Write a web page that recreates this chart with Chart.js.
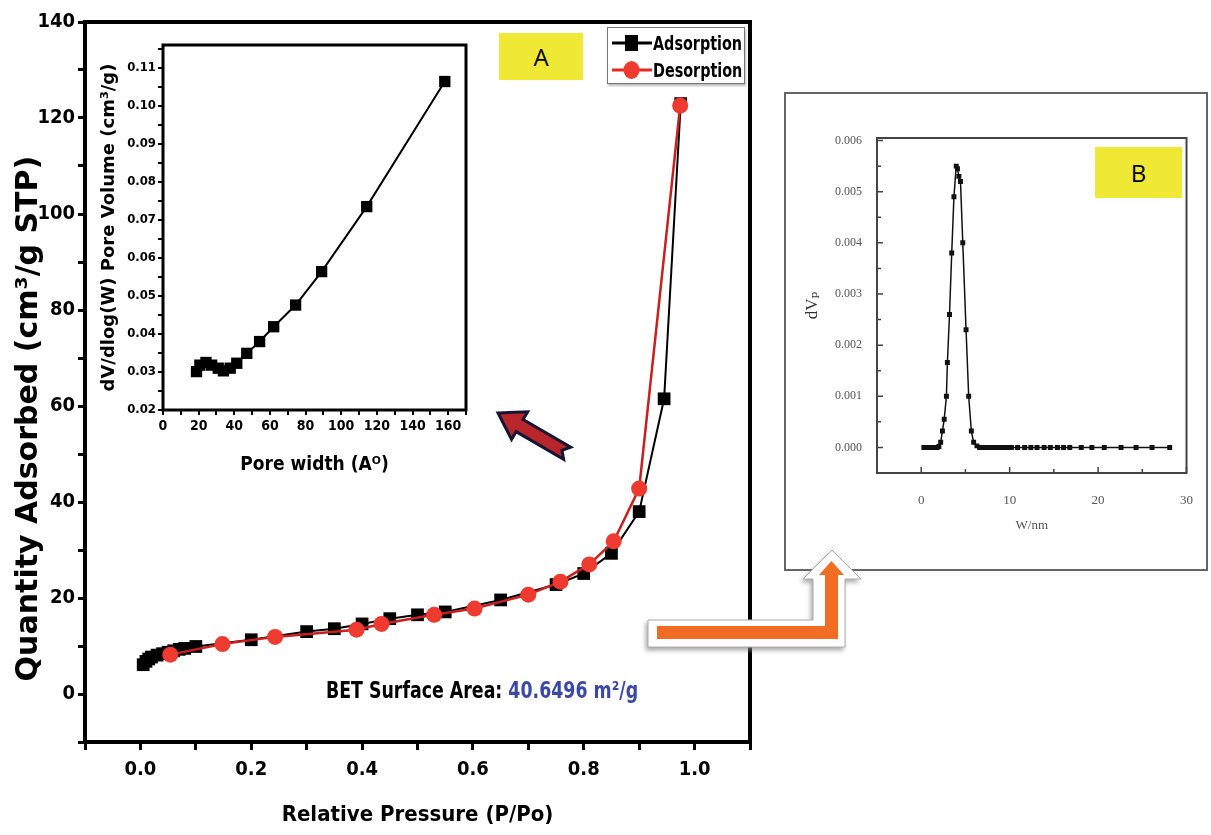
<!DOCTYPE html>
<html>
<head>
<meta charset="utf-8">
<script src="https://cdn.jsdelivr.net/npm/chart.js@4.4.0/dist/chart.umd.min.js"></script>
<style>
body{margin:0;background:#fff;width:1211px;height:835px;overflow:hidden;position:relative}
.abs{position:absolute}
.narrow{font-family:"Liberation Sans Narrow","DejaVu Sans Condensed",sans-serif;font-weight:bold}
#leg .row{display:flex;align-items:center;height:27px}
#leg svg{flex-shrink:0}
#leg span{font-size:19px;display:inline-block;transform:scaleX(0.84);transform-origin:left center;white-space:nowrap}
</style>
</head>
<body>
<canvas id="main" class="abs" style="left:0;top:0" width="770" height="835"></canvas>
<canvas id="inset" class="abs" style="left:95px;top:35px" width="380" height="450"></canvas>

<div class="abs" style="left:499px;top:33px;width:84px;height:47px;background:#efe935;font:24px 'Open Sans',sans-serif;text-align:center;line-height:47px">A</div>

<div id="leg" class="abs narrow" style="left:607px;top:27px;width:138px;height:57px;border:1px solid #777;background:#fff;box-shadow:1px 2px 2px #bbb;padding-top:1px;box-sizing:border-box">
  <div class="row"><svg width="45" height="24"><line x1="4" y1="12" x2="44" y2="12" stroke="#000" stroke-width="3"/><rect x="17" y="4" width="13" height="16" fill="#000"/></svg><span>Adsorption</span></div>
  <div class="row"><svg width="45" height="24"><line x1="4" y1="12" x2="44" y2="12" stroke="#e02a22" stroke-width="3"/><ellipse cx="23.5" cy="12" rx="8" ry="9" fill="#ee3a2f"/></svg><span>Desorption</span></div>
</div>

<div class="abs narrow" style="left:282px;top:677px;width:400px;text-align:center;font-size:23px;white-space:nowrap;transform:scaleX(0.84);transform-origin:center">BET Surface Area: <span style="color:#3c48a6">40.6496 m²/g</span></div>

<div class="abs" style="left:784px;top:92px;width:424px;height:479px;border:2px solid #666;box-sizing:border-box"></div>
<canvas id="pb" class="abs" style="left:790px;top:95px" width="415" height="470"></canvas>
<div class="abs" style="left:1095px;top:147px;width:87px;height:51px;background:#efe935;font:24px 'Open Sans',sans-serif;text-align:center;line-height:51px">B</div>

<svg class="abs" style="left:0;top:0" width="1211" height="835">
  <defs>
    <filter id="sh" x="-10%" y="-10%" width="130%" height="140%">
      <feDropShadow dx="-2" dy="3" stdDeviation="2" flood-color="#888" flood-opacity="0.7"/>
    </filter>
  </defs>
  <g transform="translate(498,413) rotate(30.2)">
    <polygon points="0,0 25,-16 25,-7 80,-7 74,0 80,7 25,7 25,16" fill="#b8262b" stroke="#141633" stroke-width="3" stroke-linejoin="miter"/>
  </g>
  <polygon points="648,620 813,620 813,579 803,579 832,550 861,579 845,579 845,647 648,647" fill="#fff" stroke="#aaa" stroke-width="1" filter="url(#sh)"/>
  <polygon points="657,626 825,626 825,575 819,575 831.5,561 844,575 838,575 838,639 657,639" fill="#f26c24"/>
</svg>

<script>
// main isotherm (Relative Pressure P/Po vs Quantity Adsorbed)
const adsX = [0.005, 0.01, 0.015, 0.02, 0.03, 0.04, 0.05, 0.06, 0.07, 0.08, 0.1, 0.2, 0.3, 0.35, 0.4, 0.45, 0.5, 0.55, 0.65, 0.75, 0.8, 0.85, 0.9, 0.945, 0.975];
const adsY = [6.1, 6.8, 7.3, 7.7, 8.1, 8.4, 8.7, 9.0, 9.3, 9.5, 9.9, 11.3, 13.0, 13.6, 14.6, 15.7, 16.5, 17.1, 19.6, 22.8, 25.1, 29.3, 38.0, 61.5, 123.0];
const desX = [0.054, 0.148, 0.243, 0.39, 0.435, 0.53, 0.603, 0.70, 0.758, 0.81, 0.854, 0.90, 0.974];
const desY = [8.2, 10.4, 11.9, 13.4, 14.6, 16.5, 17.8, 20.7, 23.4, 27.0, 31.8, 42.8, 122.6];
const mainXTicks = [-0.1, 0, 0.1, 0.2, 0.3, 0.4, 0.5, 0.6, 0.7, 0.8, 0.9, 1.0, 1.1];
const mainXLabels = ['', '0.0', '', '0.2', '', '0.4', '', '0.6', '', '0.8', '', '1.0', ''];
const mainYTicks = [-10, 0, 10, 20, 30, 40, 50, 60, 70, 80, 90, 100, 110, 120, 130, 140];
const mainYLabels = ['', '0', '', '20', '', '40', '', '60', '', '80', '', '100', '', '120', '', '140'];

// inset: pore width vs dV/dlog(W)
const poreW = [18.8, 20.7, 24.1, 27.3, 31.0, 33.9, 37.7, 41.4, 47.0, 54.2, 62.1, 74.4, 89.0, 114.3, 158.1];
const poreV = [0.0301, 0.0318, 0.0325, 0.0318, 0.031, 0.0303, 0.031, 0.0323, 0.0349, 0.038, 0.0419, 0.0476, 0.0564, 0.0735, 0.1064];
const insetXTicks = [0, 10, 20, 30, 40, 50, 60, 70, 80, 90, 100, 110, 120, 130, 140, 150, 160, 170];
const insetXLabels = ['0', '', '20', '', '40', '', '60', '', '80', '', '100', '', '120', '', '140', '', '160', ''];
const insetYTicks = [0.02, 0.025, 0.03, 0.035, 0.04, 0.045, 0.05, 0.055, 0.06, 0.065, 0.07, 0.075, 0.08, 0.085, 0.09, 0.095, 0.10, 0.105, 0.11, 0.115];
const insetYLabels = ['0.02', '', '0.03', '', '0.04', '', '0.05', '', '0.06', '', '0.07', '', '0.08', '', '0.09', '', '0.10', '', '0.11', ''];

// panel B: W/nm vs dVp
const bW = [0.3, 0.6, 0.9, 1.2, 1.5, 1.8, 2.0, 2.2, 2.4, 2.6, 2.85, 2.96, 3.2, 3.45, 3.7, 3.96, 4.1, 4.26, 4.44, 4.7, 5.07, 5.37, 5.67, 5.93, 6.3, 6.6, 6.9, 7.2, 7.5, 7.8, 8.1, 8.4, 8.7, 9.0, 9.3, 9.6, 9.9, 10.2, 10.9, 11.7, 12.4, 13.1, 13.9, 14.6, 15.4, 16.1, 16.8, 18.1, 19.3, 20.7, 22.6, 24.3, 26.1, 28.1];
const bV = [0, 0, 0, 0, 0, 0, 0.00002, 0.0001, 0.00032, 0.00055, 0.001, 0.00166, 0.0026, 0.0038, 0.0049, 0.0055, 0.00545, 0.0053, 0.0052, 0.004, 0.0023, 0.001, 0.00032, 0.0001, 0.00003, 0, 0, 0, 0, 0, 0, 0, 0, 0, 0, 0, 0, 0, 0, 0, 0, 0, 0, 0, 0, 0, 0, 0, 0, 0, 0, 0, 0, 0];
const bXTicks = [-5, 0, 5, 10, 15, 20, 25, 30];
const bXLabels = ['', '0', '', '10', '', '20', '', '30'];
const bYTicks = [-0.0005, 0, 0.0005, 0.001, 0.0015, 0.002, 0.0025, 0.003, 0.0035, 0.004, 0.0045, 0.005, 0.0055, 0.006];
const bYLabels = ['', '0.000', '', '0.001', '', '0.002', '', '0.003', '', '0.004', '', '0.005', '', '0.006'];

const pts = (xs, ys) => xs.map((x, i) => ({x: x, y: ys[i]}));
const setTicks = vals => s => { s.ticks = vals.map(v => ({value: v})); };
const narrow = '"Liberation Sans Narrow","DejaVu Sans Condensed",sans-serif';

const frame = {
  id: 'frame',
  afterDraw(chart, args, opts) {
    const a = chart.chartArea, ctx = chart.ctx;
    ctx.save();
    ctx.lineWidth = opts.width || 3;
    ctx.strokeStyle = opts.color || '#000';
    ctx.strokeRect(a.left, a.top, a.right - a.left, a.bottom - a.top);
    ctx.restore();
  }
};
Chart.register(frame);

// inward ticks for panel B
const innerTicks = {
  id: 'innerTicks',
  afterDraw(chart) {
    const ctx = chart.ctx, a = chart.chartArea;
    const sx = chart.scales.x, sy = chart.scales.y;
    ctx.save();
    ctx.strokeStyle = '#444';
    ctx.lineWidth = 1.5;
    ctx.beginPath();
    sx.ticks.forEach((t, i) => {
      const px = sx.getPixelForValue(t.value);
      const len = bXLabels[i] ? 6 : 4;
      ctx.moveTo(px, a.bottom); ctx.lineTo(px, a.bottom - len);
    });
    sy.ticks.forEach((t, i) => {
      const py = sy.getPixelForValue(t.value);
      const len = bYLabels[i] ? 6 : 4;
      ctx.moveTo(a.left, py); ctx.lineTo(a.left + len, py);
    });
    ctx.stroke();
    ctx.restore();
  }
};

new Chart(document.getElementById('main'), {
  type: 'line',
  data: {
    datasets: [
      {label: 'Adsorption', data: pts(adsX, adsY), borderColor: '#000', backgroundColor: '#000', borderWidth: 2,
       pointStyle: 'rect', pointRadius: 9, pointBorderWidth: 0, order: 2},
      {label: 'Desorption', data: pts(desX, desY), borderColor: '#c82020', backgroundColor: '#ee3a2f', borderWidth: 2.5,
       pointStyle: 'circle', pointRadius: 8, pointBorderWidth: 0, order: 1}
    ]
  },
  options: {
    responsive: false,
    animation: false,
    layout: {padding: {top: 22, right: 20, left: 0, bottom: 0}},
    plugins: {legend: {display: false}, tooltip: {enabled: false}, frame: {width: 4, color: '#000'}},
    scales: {
      x: {
        type: 'linear', min: -0.1, max: 1.1,
        afterBuildTicks: setTicks(mainXTicks),
        afterFit: s => { s.height = 93; },
        grid: {drawOnChartArea: false, tickLength: 8, color: '#000', lineWidth: 3},
        border: {display: false},
        ticks: {callback: (v, i) => mainXLabels[i], color: '#000', padding: 8, maxRotation: 0, autoSkip: false,
                font: {family: narrow, size: 20, weight: 'bold'}},
        title: {display: true, text: 'Relative Pressure (P/Po)', color: '#000', padding: {top: 0, bottom: 7},
                font: {family: narrow, size: 22, weight: 'bold'}}
      },
      y: {
        type: 'linear', min: -10, max: 140,
        afterBuildTicks: setTicks(mainYTicks),
        afterFit: s => { s.width = 85; },
        grid: {drawOnChartArea: false, tickLength: 7, color: '#000', lineWidth: 3},
        border: {display: false},
        ticks: {callback: (v, i) => mainYLabels[i], color: '#000', padding: 3, autoSkip: false,
                font: {family: narrow, size: 20, weight: 'bold'}},
        // trailing spaces push the rotated title down a little, as in the figure
        title: {display: true, text: 'Quantity Adsorbed (cm³/g STP)\u00A0\u00A0\u00A0\u00A0\u00A0\u00A0\u00A0', color: '#000', padding: {top: 11, bottom: 0},
                font: {family: '"DejaVu Sans",sans-serif', size: 30, weight: 'bold'}}
      }
    }
  }
});

new Chart(document.getElementById('inset'), {
  type: 'line',
  data: {
    datasets: [
      {label: 'Pore volume', data: pts(poreW, poreV), borderColor: '#000', backgroundColor: '#000', borderWidth: 2,
       pointStyle: 'rect', pointRadius: 8, pointBorderWidth: 0}
    ]
  },
  options: {
    responsive: false,
    animation: false,
    layout: {padding: {top: 10, right: 9, left: 0, bottom: 0}},
    plugins: {legend: {display: false}, tooltip: {enabled: false}, frame: {width: 3, color: '#000'}},
    scales: {
      x: {
        type: 'linear', min: 0, max: 170,
        afterBuildTicks: setTicks(insetXTicks),
        afterFit: s => { s.height = 75; },
        grid: {drawOnChartArea: false, tickLength: 5, color: '#000', lineWidth: 2},
        border: {display: false},
        ticks: {callback: (v, i) => insetXLabels[i], color: '#000', padding: 3, maxRotation: 0, autoSkip: false,
                font: {family: narrow, size: 14, weight: 'bold'}},
        title: {display: true, text: 'Pore width (Aᴼ)', color: '#000', padding: {top: 0, bottom: 9},
                font: {family: narrow, size: 19, weight: 'bold'}}
      },
      y: {
        type: 'linear', min: 0.02, max: 0.116,
        afterBuildTicks: setTicks(insetYTicks),
        afterFit: s => { s.width = 68; },
        grid: {drawOnChartArea: false, tickLength: 5, color: '#000', lineWidth: 2},
        border: {display: false},
        ticks: {callback: (v, i) => insetYLabels[i], color: '#000', padding: 2, autoSkip: false,
                font: {family: narrow, size: 13, weight: 'bold'}},
        title: {display: true, text: 'dV/dlog(W) Pore Volume (cm³/g)', color: '#000', padding: {top: 4, bottom: 0},
                font: {family: '"DejaVu Sans",sans-serif', size: 18, weight: 'bold'}}
      }
    }
  }
});

new Chart(document.getElementById('pb'), {
  type: 'line',
  data: {
    datasets: [
      {label: 'dVp', data: pts(bW, bV), borderColor: '#111', backgroundColor: '#111', borderWidth: 1.5,
       pointStyle: 'rect', pointRadius: 3.5, pointBorderWidth: 0}
    ]
  },
  plugins: [innerTicks],
  options: {
    responsive: false,
    animation: false,
    layout: {padding: {top: 43, right: 16, left: 0, bottom: 0}},
    plugins: {legend: {display: false}, tooltip: {enabled: false}, frame: {width: 2, color: '#444'}},
    scales: {
      x: {
        type: 'linear', min: -5, max: 30,
        afterBuildTicks: setTicks(bXTicks),
        afterFit: s => { s.height = 92; },
        grid: {display: false},
        border: {display: false},
        ticks: {callback: (v, i) => bXLabels[i], color: '#555', padding: 12, maxRotation: 0, autoSkip: false,
                font: {family: '"Liberation Serif",serif', size: 13}},
        title: {display: true, text: 'W/nm', color: '#555', padding: {top: 0, bottom: 32},
                font: {family: '"Liberation Serif",serif', size: 13}}
      },
      y: {
        type: 'linear', min: -0.0005, max: 0.00605,
        afterBuildTicks: setTicks(bYTicks),
        afterFit: s => { s.width = 87; },
        grid: {display: false},
        border: {display: false},
        ticks: {callback: (v, i) => bYLabels[i], color: '#555', padding: 7, autoSkip: false,
                font: {family: '"Liberation Serif",serif', size: 12}},
        title: {display: true, text: 'dVₚ', color: '#333', padding: {top: 12, bottom: 0},
                font: {family: '"Liberation Serif","DejaVu Serif",serif', size: 17}}
      }
    }
  }
});
</script>
</body>
</html>
